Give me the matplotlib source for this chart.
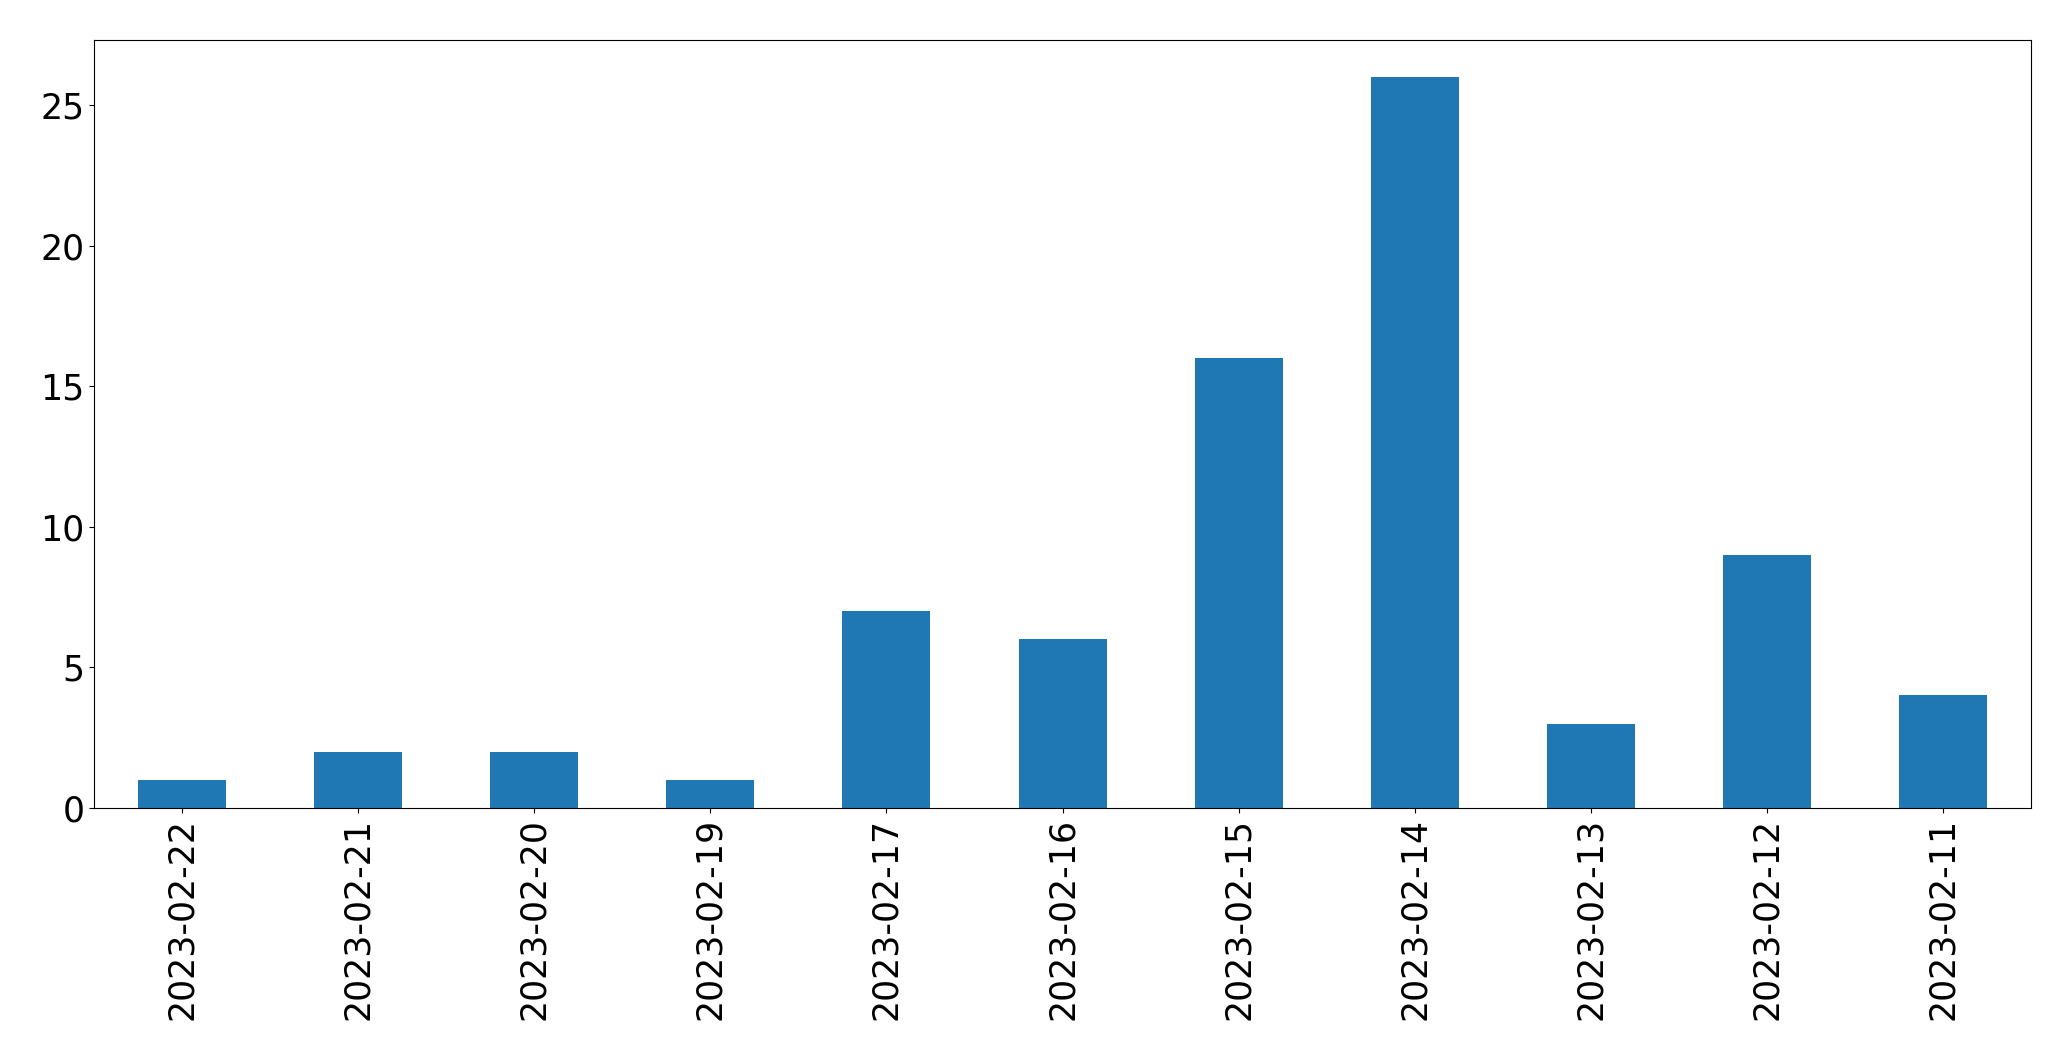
import matplotlib.pyplot as plt
import pandas as pd

dates = ['2023-02-22', '2023-02-21', '2023-02-20', '2023-02-19', '2023-02-17', '2023-02-16',
         '2023-02-15', '2023-02-14', '2023-02-13', '2023-02-12', '2023-02-11']
counts = [1, 2, 2, 1, 7, 6, 16, 26, 3, 9, 4]

s = pd.Series(counts, index=dates)

fig, ax = plt.subplots(figsize=(20.71, 10.61), dpi=100)
s.plot(kind='bar', ax=ax, color='#1f77b4')
ax.tick_params(axis='both', labelsize=25)
fig.subplots_adjust(left=0.0454, right=0.9807, top=0.962, bottom=0.2385)
fig.savefig('out.png', dpi=100)
